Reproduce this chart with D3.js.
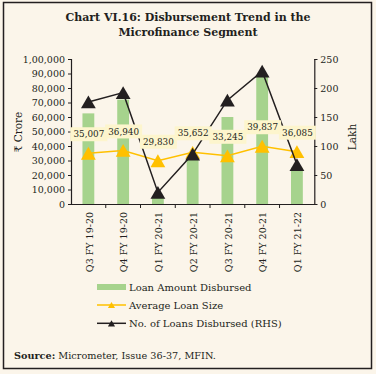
<!DOCTYPE html>
<html>
	<head>
		<meta charset="utf-8" />
		<title>Disbursement Trend in the Microfinance Segment</title>
		<script src="https://d3js.org/d3.v7.min.js"></script>
		<style>
			body { margin: 0; background: #fbf5ea; }
			text { font-family: "DejaVu Serif", serif; fill: #231f20; }
		</style>
	</head>
	<body>
		<svg width="376" height="374"></svg>
		<script>
			// chart data
			const categories = ["Q3 FY 19-20", "Q4 FY 19-20", "Q1 FY 20-21", "Q2 FY 20-21", "Q3 FY 20-21", "Q4 FY 20-21", "Q1 FY 21-22"];
			const loanAmount = [62500, 72000, 5000, 31000, 60000, 89000, 25000];
			const avgLoanSize = [35007, 36940, 29830, 35652, 33245, 39837, 36085];
			const numLoans = [176, 192, 20, 86, 179, 229, 68];
			const leftTicks = [0, 10000, 20000, 30000, 40000, 50000, 60000, 70000, 80000, 90000, 100000];
			const rightTicks = [0, 50, 100, 150, 200, 250];

			const svg = d3.select("svg");
			const green = "#a6d38d", gold = "#ffc000", dark = "#231f20";

			// indian style grouping: 1,00,000
			function indian(n) {
				const s = String(n);
				if (s.length <= 3) return s;
				const last = s.slice(-3);
				const rest = s.slice(0, -3).replace(/\B(?=(\d{2})+(?!\d))/g, ",");
				return rest + "," + last;
			}

			// triangle centred on its bounding box, like the spreadsheet marker
			const tri = {
				draw(ctx, size) {
					const w = Math.sqrt(size * 4 / Math.sqrt(3)), h = w * Math.sqrt(3) / 2;
					ctx.moveTo(0, -h / 2);
					ctx.lineTo(w / 2, h / 2);
					ctx.lineTo(-w / 2, h / 2);
					ctx.closePath();
				}
			};

			svg.append("rect").attr("x", 3.5).attr("y", 2.5).attr("width", 368).attr("height", 366)
				.attr("fill", "#fbf5ea").attr("stroke", dark).attr("stroke-width", 1.5);

			// title
			svg.append("text").attr("x", 188).attr("y", 21).attr("text-anchor", "middle")
				.style("font-weight", "bold").style("font-size", "11px")
				.text("Chart VI.16: Disbursement Trend in the");
			svg.append("text").attr("x", 188).attr("y", 36).attr("text-anchor", "middle")
				.style("font-weight", "bold").style("font-size", "11px")
				.text("Microfinance Segment");

			const x = d3.scaleBand().domain(categories).range([71, 314.3]);
			const yL = d3.scaleLinear().domain([0, 100000]).range([204, 59]);
			const yR = d3.scaleLinear().domain([0, 250]).range([204, 59]);
			const cx = (d) => x(d) + x.bandwidth() / 2;
			const barW = x.bandwidth() * 0.34;

			// bars
			svg.append("g").selectAll("rect").data(loanAmount).join("rect")
				.attr("x", (d, i) => cx(categories[i]) - barW / 2)
				.attr("y", (d) => yL(d))
				.attr("width", barW)
				.attr("height", (d) => yL(0) - yL(d))
				.attr("fill", green);

			// axes
			const axL = svg.append("g").attr("transform", "translate(71,0)")
				.call(d3.axisLeft(yL).tickValues(leftTicks).tickFormat(indian).tickSize(3).tickPadding(3));
			const axR = svg.append("g").attr("transform", "translate(314.3,0)")
				.call(d3.axisRight(yR).tickValues(rightTicks).tickSize(3).tickPadding(3));
			const axB = svg.append("g").attr("transform", "translate(0,204)")
				.call(d3.axisBottom(x).tickSize(0).tickFormat(""));
			// x tick marks at band edges
			axB.selectAll(".edge").data(categories.slice(1)).join("line")
				.attr("x1", (d) => x(d)).attr("x2", (d) => x(d))
				.attr("y1", 0).attr("y2", 4).attr("stroke", dark);
			[axL, axR, axB].forEach((g) => {
				g.select(".domain").attr("stroke", dark).attr("stroke-width", 1.2);
				g.selectAll(".tick line").attr("stroke", dark);
				g.selectAll("text").style("font-family", "DejaVu Serif").style("font-size", "9.5px").attr("fill", dark);
			});

			// x labels, rotated
			svg.append("g").selectAll("text").data(categories).join("text")
				.attr("transform", (d) => `translate(${cx(d) + 1},212) rotate(-90)`)
				.attr("text-anchor", "end").attr("dy", "0.35em")
				.style("font-size", "9.5px")
				.text((d) => d);

			// axis titles
			svg.append("text").attr("transform", "translate(18,132) rotate(-90)")
				.attr("text-anchor", "middle").attr("dy", "0.35em").style("font-size", "10.5px").text("₹ Crore");
			svg.append("text").attr("transform", "translate(352,137) rotate(-90)")
				.attr("text-anchor", "middle").attr("dy", "0.35em").style("font-size", "10.5px").text("Lakh");

			// average loan size line
			const lineL = d3.line().x((d, i) => cx(categories[i])).y((d) => yL(d));
			svg.append("path").attr("d", lineL(avgLoanSize)).attr("fill", "none")
				.attr("stroke", gold).attr("stroke-width", 1.5);
			svg.append("g").selectAll("path").data(avgLoanSize).join("path")
				.attr("transform", (d, i) => `translate(${cx(categories[i])},${yL(d)})`)
				.attr("d", d3.symbol(tri, 95)).attr("fill", gold);

			// number of loans line (RHS)
			const lineR = d3.line().x((d, i) => cx(categories[i])).y((d) => yR(d));
			svg.append("path").attr("d", lineR(numLoans)).attr("fill", "none")
				.attr("stroke", dark).attr("stroke-width", 1.5);
			svg.append("g").selectAll("path").data(numLoans).join("path")
				.attr("transform", (d, i) => `translate(${cx(categories[i])},${yR(d)})`)
				.attr("d", d3.symbol(tri, 95)).attr("fill", dark);

			// data labels for average loan size
			const labels = svg.append("g").selectAll("g").data(avgLoanSize).join("g")
				.attr("transform", (d, i) => `translate(${cx(categories[i]) + 0.5},${yL(d) - 19})`);
			labels.append("rect").attr("x", -18.5).attr("y", -7).attr("width", 37).attr("height", 14)
				.attr("fill", "#fdf5cd");
			labels.append("text").attr("text-anchor", "middle").attr("dy", "0.35em")
				.style("font-size", "8.8px").text((d) => indian(d));

			// legend
			const leg = svg.append("g");
			leg.append("rect").attr("x", 97).attr("y", 284).attr("width", 29).attr("height", 6).attr("fill", green);
			leg.append("line").attr("x1", 97).attr("x2", 126).attr("y1", 305).attr("y2", 305)
				.attr("stroke", gold).attr("stroke-width", 1.5);
			leg.append("path").attr("transform", "translate(111.5,305)").attr("d", d3.symbol(tri, 22)).attr("fill", gold);
			leg.append("line").attr("x1", 97).attr("x2", 126).attr("y1", 323.3).attr("y2", 323.3)
				.attr("stroke", dark).attr("stroke-width", 1.5);
			leg.append("path").attr("transform", "translate(111.5,323.3)").attr("d", d3.symbol(tri, 22)).attr("fill", dark);
			const legText = ["Loan Amount Disbursed", "Average Loan Size", "No. of Loans Disbursed (RHS)"];
			leg.selectAll("text").data(legText).join("text")
				.attr("x", 129).attr("y", (d, i) => 287 + i * 18.2).attr("dy", "0.35em")
				.style("font-size", "10px").text((d) => d);

			// source
			const src = svg.append("text").attr("x", 14).attr("y", 356).attr("dy", "0.35em").style("font-size", "9.7px");
			src.append("tspan").style("font-weight", "bold").text("Source:");
			src.append("tspan").text(" Micrometer, Issue 36-37, MFIN.");
		</script>
	</body>
</html>
